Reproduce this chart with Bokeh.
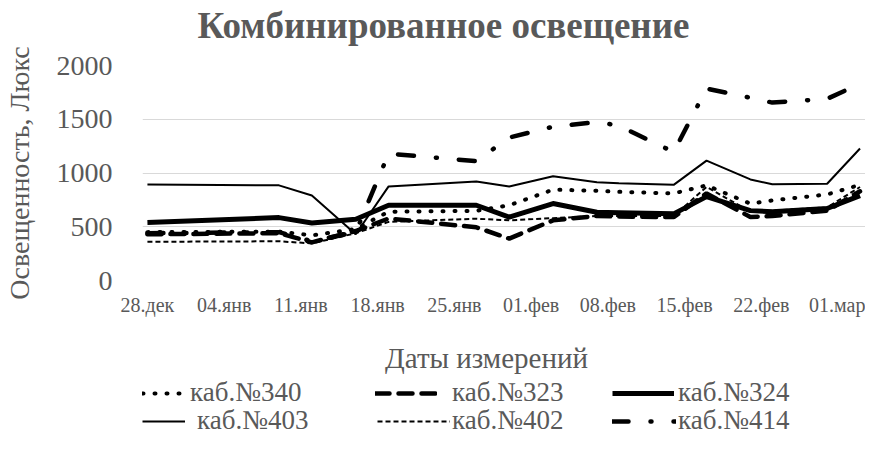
import pandas as pd
from bokeh.plotting import figure
from bokeh.layouts import column
from bokeh.models import Range1d, FixedTicker, Legend, LegendItem, Label, Title
from bokeh.embed import file_html
from bokeh.resources import INLINE

# ---- data ----
start_date = "2020-12-28"
dates = ["2020-12-28", "2021-01-09", "2021-01-12", "2021-01-16", "2021-01-19",
         "2021-01-27", "2021-01-30", "2021-02-03", "2021-02-07", "2021-02-09",
         "2021-02-14", "2021-02-17", "2021-02-21", "2021-02-23", "2021-02-28",
         "2021-03-03"]
tick_labels = ["28.дек", "04.янв", "11.янв", "18.янв", "25.янв",
               "01.фев", "08.фев", "15.фев", "22.фев", "01.мар"]

s340 = [450, 455, 420, 480, 640, 648, 700, 845, 835, 825, 810, 885, 715, 745, 800, 890]
s323 = [430, 440, 355, 460, 577, 495, 390, 560, 600, 595, 590, 810, 590, 600, 650, 830]
s324 = [540, 585, 535, 570, 700, 700, 590, 716, 635, 630, 620, 780, 650, 640, 670, 790]
s403 = [893, 885, 790, 430, 875, 920, 875, 970, 915, 905, 890, 1115, 940, 895, 900, 1228]
s402 = [360, 365, 345, 440, 545, 575, 560, 580, 600, 600, 600, 870, 640, 650, 680, 870]
s414 = [440, 450, 365, 450, 1180, 1110, 1330, 1430, 1475, 1440, 1195, 1785, 1700, 1655, 1690, 1830]

names = ["каб.№340", "каб.№323", "каб.№324", "каб.№403", "каб.№402", "каб.№414"]
title_text = "Комбинированное освещение"
x_title = "Даты измерений"
y_title = "Освещенность, Люкс"
y_ticks = [0, 500, 1000, 1500, 2000]

# ---- derived positions (days since start) ----
t0 = pd.Timestamp(start_date)
xd = [(pd.Timestamp(d) - t0).days for d in dates]
tick_pos = [7 * i for i in range(len(tick_labels))]

FONT = "Liberation Serif"
TXT = "#595959"

# ---- chart ----
p = figure(width=865, height=328, x_range=Range1d(-0.45, 65.5), y_range=Range1d(0, 2000),
           output_backend="svg", toolbar_location=None,
           min_border_left=140, min_border_right=0, min_border_top=65, min_border_bottom=48)
p.outline_line_color = None
p.background_fill_color = "white"
p.border_fill_color = "white"

# small blank spacer between frame and title, then the title itself
p.add_layout(Title(text=" ", text_font_size="12px", standoff=2), "above")
p.add_layout(Title(text=title_text, align="left", offset=55, standoff=0, vertical_align="top",
                   text_font=FONT, text_font_size="37px", text_font_style="bold",
                   text_color=TXT), "above")

ya = p.yaxis[0]
ya.ticker = FixedTicker(ticks=y_ticks)
ya.axis_line_color = None
ya.major_tick_line_color = None
ya.minor_tick_line_color = None
ya.major_label_text_font = FONT
ya.major_label_text_font_size = "28px"
ya.major_label_text_color = TXT
ya.major_label_standoff = 24
ya.axis_label = y_title
ya.axis_label_text_font = FONT
ya.axis_label_text_font_size = "28px"
ya.axis_label_text_font_style = "normal"
ya.axis_label_text_color = TXT
ya.axis_label_standoff = 19

xa = p.xaxis[0]
xa.ticker = FixedTicker(ticks=tick_pos)
xa.major_label_overrides = {tp: lab for tp, lab in zip(tick_pos, tick_labels)}
xa.axis_line_color = None
xa.major_tick_line_color = None
xa.minor_tick_line_color = None
xa.major_label_text_font = FONT
xa.major_label_text_font_size = "20px"
xa.major_label_text_color = TXT
xa.major_label_standoff = 7

p.xgrid.grid_line_color = None
p.ygrid.ticker = FixedTicker(ticks=y_ticks)
p.ygrid.grid_line_color = "#d9d9d9"
p.ygrid.grid_line_width = 1

styles = [
    dict(line_width=4, line_dash="1 11", line_cap="round"),
    dict(line_width=4.5, line_dash="14 9", line_cap="round"),
    dict(line_width=5, line_join="round"),
    dict(line_width=2),
    dict(line_width=2, line_dash="5 3"),
    dict(line_width=4.5, line_dash="16 22 1 22", line_cap="round"),
]
series = [s340, s323, s324, s403, s402, s414]
for ys, st in zip(series, styles):
    p.line(xd, ys, line_color="black", **st)

# ---- lower panel: axis title + legend (frame aligned with the chart's frame) ----
p2 = figure(width=865, height=112, x_range=Range1d(0, 725), y_range=Range1d(0, 112),
            output_backend="svg", toolbar_location=None,
            x_axis_type=None, y_axis_type=None,
            min_border_left=140, min_border_right=0,
            min_border_top=0, min_border_bottom=0)
p2.outline_line_color = None
p2.xgrid.visible = False
p2.ygrid.visible = False
p2.add_layout(Label(x=344, y=83, x_units="screen", y_units="screen", text=x_title,
                    text_font=FONT, text_font_size="29px", text_color=TXT,
                    text_align="center", text_baseline="middle"))

# single-point (off-frame, invisible) renderers carrying each series' style for the legend
legend_rends = [p2.line([-1000], [-1000], line_color="black", **st) for st in styles]

# (x, y of legend bottom, glyph width, label standoff), relative to the frame's bottom-left
legend_pos = [(0, 32, 40, 8), (233, 32, 62, 15), (470, 32, 62, 4),
              (0, 4, 43, 12), (235, 4, 73, 2), (470, 4, 64, 2)]
for i, (lx, ly, gw, so) in enumerate(legend_pos):
    lg = Legend(items=[LegendItem(label=names[i], renderers=[legend_rends[i]])],
                location=(lx, ly), orientation="horizontal",
                glyph_width=gw, glyph_height=26, label_height=26, label_standoff=so,
                label_text_font=FONT, label_text_font_size="27px", label_text_color=TXT,
                label_text_baseline="middle",
                border_line_color=None, background_fill_alpha=0, padding=0, margin=0)
    p2.add_layout(lg, "center")

layout = column(p, p2, spacing=0)
open("out.html", "w").write(file_html(layout, INLINE))
